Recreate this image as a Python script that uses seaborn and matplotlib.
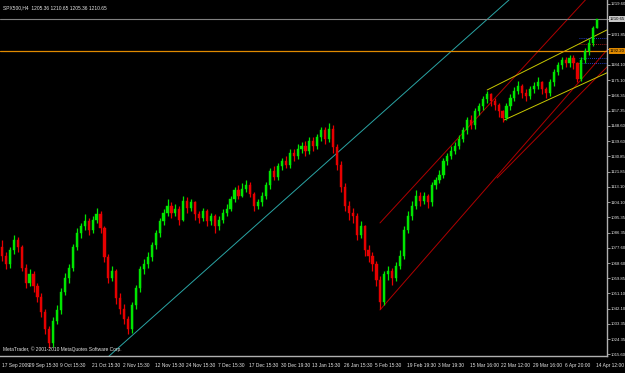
import numpy as np
import pandas as pd
import matplotlib
matplotlib.use("Agg")
import matplotlib.pyplot as plt
import matplotlib.transforms as mtransforms
import seaborn as sns

# ---------------- data ----------------
opens = [1078, 1073, 1068, 1076, 1082, 1078, 1066, 1057, 1062, 1055,
         1049, 1040, 1030, 1022, 1035, 1041, 1052, 1060, 1066, 1078,
         1086, 1090, 1093, 1088, 1094, 1097, 1089, 1072, 1060, 1064,
         1048, 1042, 1036, 1030, 1044, 1054, 1065, 1068, 1072, 1079,
         1086, 1093, 1098, 1102, 1098, 1100, 1094, 1105, 1101, 1104,
         1097, 1095, 1099, 1093, 1096, 1090, 1094, 1098, 1100, 1106,
         1111, 1108, 1112, 1114, 1109, 1102, 1104, 1108, 1114, 1122,
         1119, 1125, 1128, 1126, 1133, 1131, 1135, 1137, 1134, 1140,
         1137, 1142, 1146, 1141, 1147, 1136, 1126, 1113, 1102, 1098,
         1096, 1085, 1090, 1076, 1073, 1068, 1059, 1046, 1062, 1064,
         1060, 1067, 1073, 1088, 1096, 1102, 1108, 1105, 1108, 1104,
         1114, 1117, 1120, 1128, 1131, 1134, 1137, 1141, 1146, 1152,
         1149, 1157, 1160, 1164, 1167, 1163, 1161, 1157, 1153, 1160,
         1165, 1169, 1172, 1168, 1166, 1170, 1172, 1174, 1170, 1168,
         1174, 1180, 1184, 1187, 1185, 1188, 1185, 1176, 1187, 1192,
         1197, 1205.36]
closes = [1073, 1068, 1076, 1082, 1078, 1066, 1057, 1062, 1055, 1049,
          1040, 1030, 1022, 1035, 1041, 1052, 1060, 1066, 1078, 1086,
          1090, 1093, 1088, 1094, 1097, 1089, 1072, 1060, 1064, 1048,
          1042, 1036, 1030, 1044, 1054, 1065, 1068, 1072, 1079, 1086,
          1093, 1098, 1102, 1098, 1100, 1094, 1105, 1101, 1104, 1097,
          1095, 1099, 1093, 1096, 1090, 1094, 1098, 1100, 1106, 1111,
          1108, 1112, 1114, 1109, 1102, 1104, 1108, 1114, 1122, 1119,
          1125, 1128, 1126, 1133, 1131, 1135, 1137, 1134, 1140, 1137,
          1142, 1146, 1141, 1147, 1136, 1126, 1113, 1102, 1098, 1096,
          1085, 1090, 1076, 1073, 1068, 1059, 1046, 1062, 1064, 1060,
          1067, 1073, 1088, 1096, 1102, 1108, 1105, 1108, 1104, 1114,
          1117, 1120, 1128, 1131, 1134, 1137, 1141, 1146, 1152, 1149,
          1157, 1160, 1164, 1167, 1163, 1161, 1157, 1153, 1160, 1165,
          1169, 1172, 1168, 1166, 1170, 1172, 1174, 1170, 1168, 1174,
          1180, 1184, 1187, 1185, 1188, 1185, 1176, 1187, 1192, 1197,
          1205.36, 1210.65]
highs = [1082, 1075, 1078, 1085, 1084, 1079, 1068, 1065, 1064, 1057,
         1051, 1042, 1032, 1037, 1044, 1054, 1063, 1068, 1080, 1089,
         1092, 1097, 1095, 1096, 1101, 1099, 1090, 1074, 1067, 1065,
         1051, 1045, 1038, 1046, 1056, 1067, 1071, 1075, 1081, 1088,
         1095, 1100, 1106, 1104, 1103, 1102, 1108, 1107, 1106, 1105,
         1099, 1101, 1100, 1098, 1097, 1096, 1100, 1103, 1108, 1113,
         1114, 1115, 1117, 1116, 1110, 1106, 1110, 1116, 1124, 1125,
         1127, 1130, 1131, 1135, 1135, 1138, 1139, 1140, 1142, 1142,
         1144, 1148, 1148, 1150, 1149, 1138, 1128, 1115, 1105, 1101,
         1098, 1093, 1091, 1079, 1075, 1070, 1061, 1064, 1067, 1066,
         1069, 1076, 1090, 1099, 1105, 1111, 1110, 1110, 1109, 1116,
         1119, 1123, 1130, 1133, 1137, 1139, 1143, 1148, 1154, 1155,
         1159, 1162, 1166, 1169, 1168, 1165, 1162, 1158, 1162, 1167,
         1171, 1175, 1173, 1170, 1172, 1174, 1177, 1175, 1171, 1176,
         1182, 1186, 1189, 1189, 1190, 1190, 1186, 1189, 1194, 1199,
         1207, 1210.65]
lows = [1070, 1065, 1066, 1074, 1075, 1064, 1054, 1055, 1052, 1046,
        1037, 1027, 1019, 1020, 1033, 1039, 1050, 1057, 1064, 1076,
        1083, 1088, 1085, 1086, 1092, 1086, 1069, 1057, 1058, 1045,
        1039, 1033, 1027, 1028, 1042, 1052, 1062, 1066, 1070, 1077,
        1084, 1091, 1096, 1095, 1096, 1091, 1093, 1098, 1099, 1094,
        1092, 1093, 1090, 1091, 1086, 1088, 1092, 1096, 1099, 1104,
        1106, 1107, 1110, 1107, 1099, 1100, 1102, 1106, 1112, 1117,
        1117, 1123, 1124, 1124, 1128, 1129, 1133, 1131, 1132, 1134,
        1135, 1140, 1138, 1139, 1133, 1123, 1110, 1099, 1094, 1092,
        1082, 1083, 1073, 1069, 1064, 1055, 1042, 1044, 1059, 1056,
        1058, 1065, 1071, 1086, 1094, 1100, 1102, 1103, 1101, 1102,
        1112, 1115, 1118, 1126, 1129, 1132, 1135, 1139, 1144, 1147,
        1147, 1155, 1158, 1162, 1160, 1158, 1154, 1151, 1152, 1158,
        1163, 1167, 1165, 1163, 1164, 1168, 1170, 1167, 1165, 1166,
        1172, 1178, 1182, 1183, 1183, 1182, 1174, 1175, 1185, 1190,
        1195, 1205.36]

x_tick_bars = [0, 8, 16, 24, 32, 40, 48, 56, 64, 72, 80, 88, 96, 104, 112,
               120, 128, 136, 144, 152]
x_tick_labels = ["17 Sep 2009", "29 Sep 15:30", "9 Oct 15:30", "21 Oct 15:30",
                 "2 Nov 15:30", "12 Nov 15:30", "24 Nov 15:30", "7 Dec 15:30",
                 "17 Dec 15:30", "30 Dec 19:30", "13 Jan 15:30", "26 Jan 15:30",
                 "5 Feb 15:30", "19 Feb 19:30", "3 Mar 19:30", "15 Mar 16:00",
                 "22 Mar 12:00", "29 Mar 16:00", "6 Apr 20:00", "14 Apr 12:00"]
y_ticks = [1219.60, 1210.85, 1201.85, 1193.10, 1184.10, 1175.10, 1166.35,
           1157.35, 1148.60, 1139.60, 1130.85, 1121.85, 1113.10, 1104.10,
           1095.35, 1086.35, 1077.60, 1068.60, 1059.85, 1051.10, 1042.10,
           1033.35, 1024.35, 1015.60]

title_text = "SPX500,H4  1205.36 1210.65 1205.36 1210.65"
footer_text = "MetaTrader, \u00a9 2001-2010 MetaQuotes Software Corp."

bid_price = 1210.65
level_price = 1192.20

# trend-line anchors (bar index, price)
cyan_bars, cyan_prices = [27.2, 128.6], [1014.5, 1221.9]
red_upper_bars, red_upper_prices = [95.9, 134.0], [1092.0, 1187.0]
red_mid_bars, red_mid_prices = [95.9, 153.5], [1041.3, 1192.8]
red_low_bars, red_low_prices = [125.6, 153.5], [1118.2, 1182.9]
yel_up_bars, yel_up_prices = [123.1, 153.5], [1169.5, 1204.5]
yel_lo_bars, yel_lo_prices = [127.4, 153.5], [1152.0, 1179.5]

# short dotted pivot marks at the right edge
pivot_prices = [1199.6, 1196.3, 1188.0, 1185.2]
pivot_colors = ["#3050ff", "#d02020", "#3050ff", "#3050ff"]
pivot_start, pivot_end = 146.5, 153.5

# ---------------- style ----------------
BG = "#000000"
FG = "#e6e6e6"
UP = "#00e600"
DN = "#e60000"
FONT = ["Liberation Sans", "DejaVu Sans"]
FS = 3.5
FS_Y = 3.05

sns.set_style("dark", {"axes.facecolor": BG, "figure.facecolor": BG,
                       "axes.edgecolor": FG, "grid.color": BG})
plt.rcParams["font.family"] = FONT

df = pd.DataFrame({"bar": np.arange(len(closes)), "open": opens,
                   "high": highs, "low": lows, "close": closes})
df["up"] = df["close"] >= df["open"]
df["color"] = np.where(df["up"], UP, DN)
df["body_lo"] = df[["open", "close"]].min(axis=1)
df["body_h"] = (df["close"] - df["open"]).abs().clip(lower=0.35)

W, H = 625, 373
fig = plt.figure(figsize=(W / 100, H / 100), dpi=100, facecolor=BG)
ax = fig.add_axes([0, 17 / H, 607 / W, 356 / H])
ax.set_facecolor(BG)
ax.set_xlim(-0.5, 153.5)
ax.set_ylim(1014.47, 1221.93)


def ray(ax, bx, py, color, extend_left=False):
    slope = (py[1] - py[0]) / (bx[1] - bx[0])
    x0 = bx[0] - (200 if extend_left else 0)
    xs = [x0, 200]
    ys = [py[0] + slope * (x - bx[0]) for x in xs]
    sns.lineplot(x=xs, y=ys, ax=ax, color=color, lw=0.7, zorder=1,
                 estimator=None, sort=False)


ray(ax, cyan_bars, cyan_prices, "#2aa5a5", extend_left=True)
ray(ax, red_upper_bars, red_upper_prices, "#b00000")
ray(ax, red_mid_bars, red_mid_prices, "#b00000")
ray(ax, red_low_bars, red_low_prices, "#b00000")
sns.lineplot(x=yel_up_bars, y=yel_up_prices, ax=ax, color="#c8c800", lw=0.7,
             zorder=1, estimator=None)
sns.lineplot(x=yel_lo_bars, y=yel_lo_prices, ax=ax, color="#c8c800", lw=0.7,
             zorder=1, estimator=None)

ax.axhline(bid_price, color="#808080", lw=0.8, zorder=1)
ax.axhline(level_price, color="#e08a00", lw=0.9, zorder=1)
ax.hlines(pivot_prices, pivot_start, pivot_end, colors=pivot_colors,
          lw=0.6, linestyles=(0, (1, 1.5)), zorder=1)

# candles
ax.vlines(df["bar"], df["low"], df["high"], colors=df["color"], lw=0.9, zorder=3)
ax.bar(df["bar"], df["body_h"], bottom=df["body_lo"], width=0.55,
       color=df["color"], edgecolor=df["color"], linewidth=0.3, zorder=3)

# axes decoration
for s in ["top", "left"]:
    ax.spines[s].set_visible(False)
for s in ["right", "bottom"]:
    ax.spines[s].set_color("#b0b0b0")
    ax.spines[s].set_linewidth(1.0)
ax.grid(False)

ax.yaxis.tick_right()
ax.set_yticks(y_ticks)
ax.set_yticklabels([f"{v:.2f}" for v in y_ticks])
ax.set_xticks(x_tick_bars)
ax.set_xticklabels(x_tick_labels)
ax.tick_params(axis="y", colors="#b0b0b0", labelsize=FS_Y, length=2.0,
               width=0.6, pad=0.8, labelcolor=FG)
ax.tick_params(axis="x", colors="#b0b0b0", labelsize=FS, length=3, width=0.6,
               pad=2, labelcolor=FG)
shift = mtransforms.ScaledTranslation(-5 / 100, 0, fig.dpi_scale_trans)
for i, lbl in enumerate(ax.get_xticklabels()):
    lbl.set_ha("left")
    if i > 0:
        lbl.set_transform(lbl.get_transform() + shift)
ax.set_xlabel("")
ax.set_ylabel("")

# price boxes on the axis
for price, fc in [(bid_price, "#c8c8c8"), (level_price, "#e08a00")]:
    ax.annotate(f"{price:.2f}", xy=(1.0, price),
                xycoords=("axes fraction", "data"), xytext=(2.0, 0),
                textcoords="offset points", va="center", ha="left",
                fontsize=FS_Y, color="#000000", zorder=10,
                annotation_clip=False,
                bbox=dict(boxstyle="square,pad=0.25", fc=fc, ec="none"))

ax.text(0.005, 0.985, title_text, transform=ax.transAxes, fontsize=FS,
        color=FG, va="top", ha="left")
ax.text(0.005, 0.012, footer_text, transform=ax.transAxes, fontsize=FS,
        color=FG, va="bottom", ha="left")

if ax.get_legend() is not None:
    ax.get_legend().remove()

fig.savefig("out.png", dpi=100, facecolor=BG)
